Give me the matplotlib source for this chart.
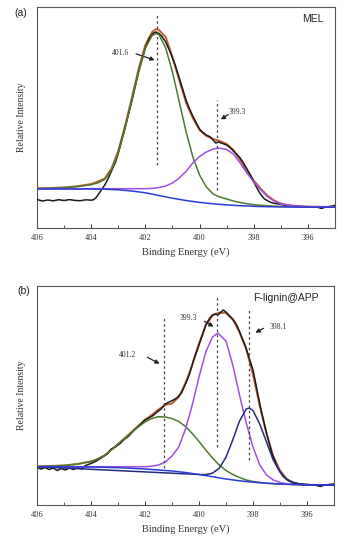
import matplotlib
matplotlib.use("Agg")
import matplotlib.pyplot as plt
from matplotlib.ticker import MultipleLocator

# ---------------- Panel (a): MEL ----------------
a_bg_x = [406, 405.5, 405, 404.5, 404, 403.5, 403, 402.5, 402, 401.5, 401, 400.5, 400, 399.5, 399, 398.5, 398, 397.5, 397, 396, 395]
a_bg_y = [39, 39, 39, 39, 39, 38.8, 38.2, 37, 35.2, 32.5, 29.8, 27.5, 25.6, 24.2, 23.1, 22.3, 21.7, 21.3, 21.1, 20.9, 20.8]

a_g_x = [406, 405, 404.5, 404.25, 404, 403.75, 403.5, 403.25, 403, 402.75, 402.5, 402.25, 402, 401.75, 401.6, 401.5, 401.25, 401, 400.75, 400.5, 400.25, 400, 399.75, 399.5, 399.25, 399, 398.75, 398.5, 398.25, 398, 397.5, 397, 396, 395]
a_g_y = [39.3, 40.4, 41.4, 42.3, 43.3, 45.2, 48.5, 58, 75, 100, 127.5, 156, 180, 192.5, 194.5, 193.5, 180, 156, 126.3, 96.6, 71.3, 53, 41, 34, 31, 29, 27, 25.5, 24.3, 23.3, 22.2, 21.5, 21, 20.8]

a_p_x = [406, 402, 401.75, 401.5, 401.25, 401, 400.75, 400.5, 400.25, 400, 399.75, 399.5, 399.3, 399, 398.75, 398.5, 398.25, 398, 397.75, 397.5, 397.25, 397, 396.75, 396.5, 396, 395]
a_p_y = [39.3, 39.3, 39.6, 40.5, 42, 45, 50, 56.5, 65, 71.5, 76, 79, 80, 78.5, 74, 65, 55, 46, 38.5, 31.5, 27, 24, 22.8, 22, 21.3, 21]

a_env_x = [406, 405.5, 405, 404.5, 404, 403.75, 403.5, 403.25, 403, 402.75, 402.5, 402.25, 402, 401.75, 401.6, 401.5, 401.25, 401, 400.75, 400.5, 400.25, 400, 399.75, 399.5, 399.25, 399, 398.75, 398.5, 398.25, 398, 397.75, 397.5, 397.25, 397, 396.75, 396.5, 396, 395]
a_env_y = [39.7, 40, 40.5, 41.8, 44, 46.5, 49.5, 59.5, 77, 102, 130, 159, 183, 196, 199, 198, 191, 171, 148, 125.5, 110, 98, 92, 89, 87, 84, 78, 68, 57, 47.5, 39.5, 32.5, 27.6, 24.4, 23, 22.2, 21.4, 21]

a_data_x = [406.0, 405.8, 405.6, 405.4, 405.2, 405.0, 404.8, 404.6, 404.4, 404.2, 404.0, 403.9, 403.8, 403.7, 403.6, 403.5, 403.4, 403.25, 403.1, 403.0, 402.75, 402.5, 402.25, 402.0, 401.85, 401.7, 401.6, 401.5, 401.4, 401.25, 401.1, 401.0, 400.9, 400.75, 400.6, 400.5, 400.4, 400.25, 400.1, 400.0, 399.9, 399.75, 399.6, 399.5, 399.4, 399.3, 399.2, 399.0, 398.9, 398.75, 398.6, 398.5, 398.4, 398.25, 398.1, 398.0, 397.9, 397.8, 397.7, 397.6, 397.5, 397.4, 397.3, 397.2, 397.0, 396.8, 396.6, 396.4, 396.2, 396.0, 395.8, 395.6, 395.5, 395.4, 395.2, 395.0]
a_data_y = [28.5, 27, 28, 27.2, 28.3, 27.5, 28.4, 27.6, 27.3, 28.2, 27.8, 28.5, 31, 35, 39, 43, 48, 57, 66, 75, 100, 127, 156, 180, 190, 195, 196, 194.5, 192, 186, 177, 170, 163, 150, 137, 128, 121, 112, 104, 99, 96, 93, 91, 88, 85, 86, 85, 83, 81, 77, 73, 70, 66, 59, 52, 46, 41, 36, 32, 29, 27.5, 26, 25, 24.5, 23.5, 22.5, 22, 21.5, 21.3, 21.2, 21, 20.5, 19.5, 20.5, 21.5, 22.5]

a_peaks = [401.57, 399.35]
a_peak_labels = ["401.6", "399.3"]

# ---------------- Panel (b): F-lignin@APP ----------------
b_bg_x = [406, 405, 404, 403, 402.5, 402, 401.5, 401, 400.5, 400, 399.5, 399, 398.5, 398, 397.5, 397, 396.5, 396, 395]
b_bg_y = [38.3, 38.2, 38, 37.3, 36.7, 36, 35, 34, 32.5, 30.5, 28.3, 26, 24.2, 22.8, 21.7, 21, 20.5, 20.2, 20]

b_g_x = [406, 405, 404.5, 404, 403.75, 403.5, 403.25, 403, 402.75, 402.5, 402.25, 402, 401.75, 401.5, 401.25, 401, 400.75, 400.5, 400.25, 400, 399.75, 399.5, 399.25, 399, 398.75, 398.5, 398.25, 398, 397.5, 397, 396.5, 396, 395]
b_g_y = [38.5, 39.5, 41, 43.5, 46, 49.5, 55, 61, 66.5, 72.5, 78, 83, 86.5, 88.3, 88, 86.5, 83.5, 78.5, 71.5, 63.5, 55, 47, 40, 34.5, 30.5, 27.5, 25, 23.5, 21.8, 21, 20.5, 20.2, 20]

b_p_x = [406, 402, 401.75, 401.5, 401.25, 401, 400.75, 400.5, 400.25, 400, 399.75, 399.5, 399.3, 399, 398.75, 398.5, 398.25, 398, 397.75, 397.5, 397.25, 397, 396.75, 396.5, 396, 395]
b_p_y = [38.3, 38.3, 38.8, 40, 43, 49, 58, 76, 100, 128, 153, 168, 172, 164, 140, 110, 82, 58, 40, 30, 25, 22.5, 21.2, 20.6, 20.2, 20]

b_n_x = [406, 400, 399.75, 399.5, 399.25, 399, 398.75, 398.5, 398.25, 398.14, 398, 397.75, 397.5, 397.25, 397, 396.75, 396.5, 396.25, 396, 395]
b_n_y = [38.3, 30.5, 30.4, 31.8, 36.8, 47.8, 65.1, 83.9, 96, 97, 94.4, 81, 63, 45, 33, 25.5, 22, 20.6, 20.2, 20]

b_env_x = [406, 405.5, 405, 404.5, 404, 403.75, 403.5, 403.25, 403, 402.75, 402.5, 402.25, 402, 401.75, 401.5, 401.25, 401, 400.75, 400.5, 400.25, 400, 399.75, 399.5, 399.25, 399, 398.75, 398.5, 398.25, 398, 397.75, 397.5, 397.25, 397, 396.75, 396.5, 396.25, 396, 395]
b_env_y = [38.6, 39, 39.5, 41, 43.5, 46, 49.5, 55, 61, 67, 73, 79, 85.3, 90, 95.5, 100, 101.5, 108, 122, 140, 161.5, 179.5, 189.5, 192.5, 192, 185.4, 173, 156, 130.3, 99, 71.4, 48.8, 34.5, 26, 22.1, 20.6, 20.2, 20]

b_data_x = [406.0, 405.85, 405.7, 405.55, 405.4, 405.25, 405.1, 404.95, 404.8, 404.65, 404.5, 404.35, 404.2, 404.0, 403.8, 403.6, 403.4, 403.25, 403.1, 402.9, 402.75, 402.6, 402.45, 402.3, 402.15, 402.0, 401.85, 401.7, 401.55, 401.4, 401.25, 401.1, 400.95, 400.8, 400.65, 400.5, 400.35, 400.2, 400.05, 399.9, 399.75, 399.6, 399.5, 399.4, 399.3, 399.2, 399.1, 399.0, 398.9, 398.75, 398.6, 398.45, 398.3, 398.15, 398.0, 397.85, 397.7, 397.5, 397.3, 397.1, 396.9, 396.7, 396.5, 396.3, 396.1, 395.9, 395.7, 395.5, 395.4, 395.2, 395.0]
b_data_y = [37.5, 36, 37.5, 35.5, 37, 34.5, 36.5, 35, 37, 35.5, 37.5, 36, 39.5, 41.5, 44, 47.5, 51, 56, 58, 62, 66, 69, 73.5, 77.5, 81, 85, 87, 89.5, 93, 96, 101, 103, 105, 107.5, 112, 121, 131, 145, 156, 168, 180, 187, 190, 191, 190, 192.5, 195, 193, 190, 186, 180, 170, 160, 148, 135, 115, 95, 72, 52, 38, 29, 24.5, 22.5, 21.3, 20.7, 20.3, 19.8, 18.5, 19.5, 20.5, 21]

b_peaks = [401.3, 399.35, 398.14]
b_peak_labels = ["401.2", "399.3", "398.1"]

x_ticks = [406, 404, 402, 400, 398, 396]

# ---------------- styling ----------------
C_DATA = "#1a1a1a"
C_ENV = "#c0602e"
C_GREEN = "#4d7a2c"
C_PURPLE = "#a04ee6"
C_BLUE = "#2a3bd6"
C_NAVY = "#232a7e"
SERIF = ["Liberation Serif", "DejaVu Serif"]
SANS = ["Liberation Sans", "DejaVu Sans"]

fig = plt.figure(figsize=(3.51, 5.50), dpi=100)
ax_a = fig.add_axes([37/351, 1-228/550, 298/351, 221/550])
ax_b = fig.add_axes([37/351, 1-505/550, 297/351, 219/550])

def style(ax, ymax):
    ax.set_xlim(406, 395)
    ax.set_ylim(0, ymax)
    ax.set_xticks(x_ticks)
    ax.xaxis.set_minor_locator(MultipleLocator(1))
    ax.tick_params(axis="x", which="major", direction="in", length=3, width=0.7, pad=4,
                   labelsize=6, colors="#333333")
    ax.tick_params(axis="x", which="minor", direction="in", length=2, width=0.6, colors="#333333")
    ax.set_yticks([])
    for lab in ax.get_xticklabels():
        lab.set_fontfamily(SERIF)
    for s in ax.spines.values():
        s.set_color("#555555")
        s.set_linewidth(0.8)
    ax.set_xlabel("Binding Energy (eV)", fontsize=7.5, family=SERIF, color="#333333", labelpad=4)
    ax.set_ylabel("Relative Intensity", fontsize=7, family=SERIF, color="#333333", labelpad=8)

lw = 1.1
arrow = dict(arrowstyle="-|>", color="#222222", lw=0.9, mutation_scale=6)
dash = (0, (2, 2.2))

# panel a
ax_a.plot(a_data_x, a_data_y, color=C_DATA, lw=lw, zorder=3)
ax_a.plot(a_env_x, a_env_y, color=C_ENV, lw=1.4, zorder=2)
ax_a.plot(a_g_x, a_g_y, color=C_GREEN, lw=lw, zorder=4)
ax_a.plot(a_p_x, a_p_y, color=C_PURPLE, lw=lw, zorder=4)
ax_a.plot(a_bg_x, a_bg_y, color=C_BLUE, lw=lw, zorder=4)
style(ax_a, 221)
ax_a.vlines(a_peaks[0], 63, 213, colors="#444444", linestyles=dash, lw=0.9, zorder=5)
ax_a.vlines(a_peaks[1], 38, 128, colors="#444444", linestyles=dash, lw=0.9, zorder=5)
ax_a.text(402.93, 175, a_peak_labels[0], fontsize=5.5, family=SERIF, ha="center", va="center", color="#333333")
ax_a.annotate("", xy=(401.56, 167), xytext=(402.44, 175), arrowprops=arrow)
ax_a.text(398.62, 116, a_peak_labels[1], fontsize=5.5, family=SERIF, ha="center", va="center", color="#333333")
ax_a.annotate("", xy=(399.3, 107), xytext=(398.85, 115), arrowprops=arrow)
ax_a.text(0.926, 0.946, "MEL", transform=ax_a.transAxes, fontsize=7.5, family=SANS,
          ha="center", va="center", color="#222222")

# panel b
ax_b.plot(b_data_x, b_data_y, color=C_DATA, lw=lw, zorder=3)
ax_b.plot(b_env_x, b_env_y, color=C_ENV, lw=1.4, zorder=2)
ax_b.plot(b_g_x, b_g_y, color=C_GREEN, lw=lw, zorder=4)
ax_b.plot(b_p_x, b_p_y, color=C_PURPLE, lw=lw, zorder=4)
ax_b.plot(b_n_x, b_n_y, color=C_NAVY, lw=lw, zorder=4)
ax_b.plot(b_bg_x, b_bg_y, color=C_BLUE, lw=lw, zorder=4)
style(ax_b, 219)
ax_b.vlines(b_peaks[0], 37, 188, colors="#444444", linestyles=dash, lw=0.9, zorder=5)
ax_b.vlines(b_peaks[1], 58, 208, colors="#444444", linestyles=dash, lw=0.9, zorder=5)
ax_b.vlines(b_peaks[2], 45, 197, colors="#444444", linestyles=dash, lw=0.9, zorder=5)
ax_b.text(402.63, 150, b_peak_labels[0], fontsize=5.5, family=SERIF, ha="center", va="center", color="#333333")
ax_b.annotate("", xy=(401.37, 140), xytext=(402.0, 149), arrowprops=arrow)
ax_b.text(400.41, 187, b_peak_labels[1], fontsize=5.5, family=SERIF, ha="center", va="center", color="#333333")
ax_b.annotate("", xy=(399.37, 177), xytext=(399.89, 185), arrowprops=arrow)
ax_b.text(397.07, 178, b_peak_labels[2], fontsize=5.5, family=SERIF, ha="center", va="center", color="#333333")
ax_b.annotate("", xy=(398.0, 171), xytext=(397.52, 178), arrowprops=arrow)
ax_b.text(0.838, 0.945, "F-lignin@APP", transform=ax_b.transAxes, fontsize=7.5, family=SANS,
          ha="center", va="center", color="#222222")

fig.text(21/351, 1-13/550, "(a)", fontsize=7.5, family=SANS, ha="center", va="center", color="#222222")
fig.text(24/351, 1-291/550, "(b)", fontsize=7.5, family=SANS, ha="center", va="center", color="#222222")

fig.savefig("out.png", dpi=100)
